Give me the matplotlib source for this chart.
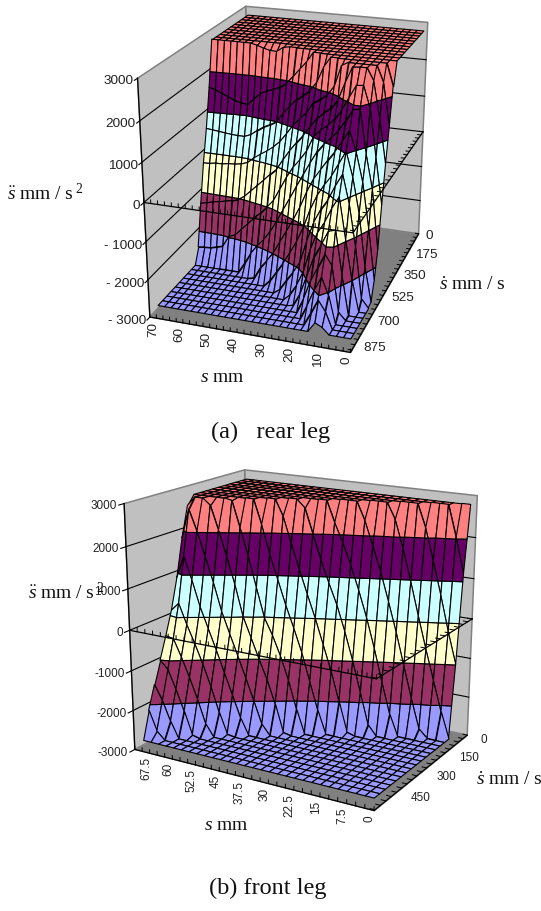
import numpy as np
import matplotlib
matplotlib.use("Agg")
import matplotlib.pyplot as plt
from mpl_toolkits.mplot3d import proj3d
from mpl_toolkits.mplot3d.art3d import Poly3DCollection

plt.rcParams["font.family"] = ["Liberation Sans", "DejaVu Sans"]
plt.rcParams["mathtext.fontset"] = "custom"
plt.rcParams["mathtext.rm"] = "Liberation Serif"
plt.rcParams["mathtext.it"] = "Liberation Serif:italic"

W, H = 541, 911

s_values = [70, 67.5, 65, 62.5, 60, 57.5, 55, 52.5, 50, 47.5, 45, 42.5, 40, 37.5, 35,
            32.5, 30, 27.5, 25, 22.5, 20, 17.5, 15, 12.5, 10, 7.5, 5, 2.5, 0]
rear_v = [0, 35, 70, 105, 140, 175, 210, 245, 280, 315, 350, 385, 420, 455, 490, 525, 560,
          595, 630, 665, 700, 735, 770, 805, 840, 875]
front_v = [0, 30, 60, 90, 120, 150, 180, 210, 240, 270, 300, 330, 360, 390, 420, 450, 480, 510, 540]

z_high = 2800
z_low = -2800

# rows still on the top plateau for each s, then the values read down the wall
rear_flat_rows = [11, 11, 11, 11, 11, 11, 11, 10, 10, 10, 10, 10, 11, 11, 11, 11, 12, 12, 12,
                  13, 13, 13, 14, 14, 15, 15, 14, 13, 12]
rear_wall = [
    [1610, 590, -260, -1280, -2400],
    [1560, 570, -250, -1240, -2380],
    [1480, 550, -220, -1190, -2370],
    [1420, 530, -220, -1160, -2320],
    [1330, 510, -190, -1120, -2270],
    [1290, 500, -180, -1080, -1970],
    [1260, 500, -150, -1030, -1900],
    [2760, 1440, 570, -90, -910, -1720],
    [2700, 1590, 700, 60, -740, -1540, -2520],
    [2660, 1680, 820, 180, -570, -1360, -2210],
    [2650, 1740, 900, 290, -400, -1190, -1980, -2760],
    [2770, 1810, 1000, 420, -220, -1000, -1780, -2440],
    [1940, 1240, 580, -60, -800, -1540, -2220],
    [2130, 1440, 810, 220, -470, -1230, -1980, -2620],
    [2340, 1630, 1050, 480, -130, -890, -1650, -2350],
    [2540, 1760, 1250, 710, 160, -560, -1330, -2080, -2670],
    [1900, 1420, 920, 380, -220, -1000, -1780, -2400],
    [2130, 1690, 1160, 630, 110, -640, -1450, -2150, -2630],
    [2540, 1800, 1410, 1020, 440, -210, -1040, -1860, -2350, -2760],
    [1930, 1570, 1210, 750, 150, -540, -1260, -1960, -2430],
    [2160, 1690, 1340, 970, 410, -150, -740, -1330, -1920, -2400],
    [2700, 1920, 1530, 1140, 670, 140, -380, -880, -1390, -1900, -2420],
    [2370, 1770, 1340, 910, 390, -110, -580, -1050, -1520, -1990, -2460],
    [2780, 2100, 1610, 1180, 720, 260, -200, -680, -1150, -1620, -2090, -2540],
    [2420, 1900, 1480, 1050, 580, 110, -620, -1420, -2070, -2360, -2630],
    [2440, 1940, 950, 420, -160, -970, -1770, -2610],
    [2490, 1890, 830, 220, -480, -1240, -2000],
    [2390, 1560, 670, -50, -950, -1850, -2580],
    [2240, 1320, 440, -520, -1600, -2300, -2770],
]

front_flat_rows = [10, 11, 11, 10, 10, 9, 9, 9, 8, 8, 7, 7, 6, 6, 6, 5, 5, 5, 4, 4, 4, 3, 3, 3,
                   2, 2, 2, 1, 1]
front_wall = [
    [2565, 1810, 875, 125, -455, -1000, -1545, -2115, -2800],
    [2540, 1440, 330, -490, -1200, -1910, -2610],
    [2030, 880, -170, -920, -1660, -2400],
    [2640, 1440, 240, -620, -1400, -2180],
    [2060, 820, -270, -1100, -1920, -2750],
    [2760, 1440, 130, -780, -1640, -2510],
    [2120, 770, -400, -1320, -2250],
    [1450, 0, -920, -1850, -2770],
    [2200, 700, -500, -1450, -2390],
    [1500, -30, -1010, -1990],
    [2400, 900, -430, -1490, -2550],
    [1770, 290, -920, -2070],
    [2610, 1160, -250, -1500, -2760],
    [2000, 570, -830, -2200],
    [1400, 0, -1530],
    [2280, 850, -630, -2220],
    [1820, 340, -1260],
    [1300, -290, -2000],
    [2360, 710, -990, -2740],
    [1770, 60, -1770],
    [1160, -680, -2550],
    [2410, 460, -1500],
    [1730, -270, -2270],
    [960, -1070],
    [2240, 140, -1870],
    [1470, -650, -2600],
    [660, -1400],
    [2040, -200, -2150],
    [1200, -980],
]

z_ticks = [3000, 2000, 1000, 0, -1000, -2000, -3000]
rear_z_labels = ["3000", "2000", "1000", "0", "- 1000", "- 2000", "- 3000"]
front_z_labels = ["3000", "2000", "1000", "0", "-1000", "-2000", "-3000"]
rear_s_ticks = [70, 60, 50, 40, 30, 20, 10, 0]
front_s_ticks = [67.5, 60, 52.5, 45, 37.5, 30, 22.5, 15, 7.5, 0]
rear_v_ticks = [0, 175, 350, 525, 700, 875]
front_v_ticks = [0, 150, 300, 450]

band_edges = [-3000, -2000, -1000, 0, 1000, 2000, 3000]
band_colors = ["#9999FF", "#993366", "#FFFFCC", "#CCFFFF", "#660066", "#FF8080"]
wall_color = "#C0C0C0"
floor_color = "#808080"


def build_grid(flat_rows, wall, n_rows):
    grid = []
    for n, values in zip(flat_rows, wall):
        grid.append([z_high] * n + values + [z_low] * (n_rows - n - len(values)))
    return np.array(grid, float)


def clip_z(poly, lo, hi):
    # cut a polygon to the slab lo <= z <= hi
    for limit, sign in ((lo, 1), (hi, -1)):
        kept = []
        for k in range(len(poly)):
            a = poly[k]
            b = poly[(k + 1) % len(poly)]
            da = sign * (a[2] - limit)
            db = sign * (b[2] - limit)
            if da >= 0:
                kept.append(a)
            if da * db < 0:
                t = da / (da - db)
                kept.append(tuple(a[m] + t * (b[m] - a[m]) for m in range(3)))
        poly = kept
        if not poly:
            return []
    return poly


def draw_chart(position, view, vmax, v_step, v_rows, z, z_labels, s_ticks, v_ticks, fs, s_off, v_off):
    left, bottom, size = position
    ax = fig.add_axes([left / W, bottom / H, size / W, size / H], projection="3d", computed_zorder=False)
    xmin, xmax = -1.25, 71.25
    ymin, ymax = -12.5, vmax
    zmin, zmax = -3000, 3000
    ax.set_xlim(xmin, xmax, view_margin=0)
    ax.set_ylim(ymin, ymax, view_margin=0)
    ax.set_zlim(zmin, zmax, view_margin=0)
    ax.view_init(view[0], view[1])
    ax.set_proj_type("persp", focal_length=view[2])
    ax.set_box_aspect((1, view[3], view[4]))
    ax.set_axis_off()

    # walls and floor
    walls = [
        [(xmax, ymin, zmin), (xmax, ymax, zmin), (xmax, ymax, zmax), (xmax, ymin, zmax)],
        [(xmin, ymin, zmin), (xmax, ymin, zmin), (xmax, ymin, zmax), (xmin, ymin, zmax)],
    ]
    ax.add_collection3d(Poly3DCollection(walls, facecolors=wall_color, edgecolors=floor_color, linewidths=1.1, zorder=1))
    floor = [[(xmin, ymin, zmin), (xmax, ymin, zmin), (xmax, ymax, zmin), (xmin, ymax, zmin)]]
    ax.add_collection3d(Poly3DCollection(floor, facecolors=floor_color, edgecolors=floor_color, linewidths=0.5, zorder=2))

    for t in z_ticks[1:-1]:
        ax.plot([xmax, xmax, xmin], [ymax, ymin, ymin], [t, t, t], color="black", lw=0.8, zorder=3)

    # surface, back to front
    order = 10
    for i in range(len(s_values) - 1):
        for j in range(len(v_rows) - 1):
            quad = [(s_values[i], v_rows[j], z[i, j]), (s_values[i + 1], v_rows[j], z[i + 1, j]),
                    (s_values[i + 1], v_rows[j + 1], z[i + 1, j + 1]), (s_values[i], v_rows[j + 1], z[i, j + 1])]
            pieces = []
            colors = []
            for b in range(len(band_colors)):
                piece = clip_z(quad, band_edges[b], band_edges[b + 1])
                if len(piece) >= 3:
                    pieces.append(piece)
                    colors.append(band_colors[b])
            ax.add_collection3d(Poly3DCollection(pieces, facecolors=colors, edgecolors="black", linewidths=0.8, zorder=order))
            order += 1

    top = order + 10
    # axis lines on top of the surface
    ax.plot([xmax, xmax], [ymax, ymax], [zmin, zmax], color="black", lw=0.9, zorder=top)
    ax.plot([xmax, xmin, xmin], [ymax, ymax, ymin], [0, 0, 0], color="black", lw=0.9, zorder=top)
    ax.plot([xmax, xmin, xmin], [ymax, ymax, ymin], [zmin, zmin, zmin], color="black", lw=0.9, zorder=top)
    for t in z_ticks:
        ax.plot([xmax, xmax], [ymax, ymax + 22], [t, t], color="black", lw=0.8, zorder=top)
    for sv in np.arange(xmin, xmax + 1, 2.5):
        ax.plot([sv, sv], [ymax, ymax], [zmin, zmin + 90], color="black", lw=0.7, zorder=top)
        ax.plot([sv, sv], [ymax, ymax], [0, 90], color="black", lw=0.7, zorder=top)
    for vv in np.arange(ymin, ymax + 1, v_step):
        ax.plot([xmin, xmin + 1.3], [vv, vv], [zmin, zmin], color="black", lw=0.7, zorder=top)
        ax.plot([xmin, xmin + 1.3], [vv, vv], [0, 0], color="black", lw=0.7, zorder=top)

    # tick labels, placed at the projected axis positions
    M = ax.get_proj()

    def put(x, y, zv, text, **kw):
        px, py, _ = proj3d.proj_transform(x, y, zv, M)
        ax.text2D(px, py, text, transform=ax.transData, fontsize=fs, color="#222222", zorder=top, **kw)

    for t, text in zip(z_ticks, z_labels):
        put(xmax, ymax + 30, t, text, ha="right", va="center")
    for sv in s_ticks:
        put(sv, ymax, zmin - s_off, str(sv), rotation=90, ha="center", va="top")
    for vv in v_ticks:
        put(xmin - v_off, vv, zmin, str(vv), ha="left", va="center")
    return ax


def label(x, y, text, size=14, family="Liberation Serif", ha="center"):
    fig.text(x / W, 1 - y / H, text, fontsize=size, family=family, ha=ha, va="center", color="#111111")


fig = plt.figure(figsize=(W / 100, H / 100), dpi=100)

rear_z = build_grid(rear_flat_rows, rear_wall, len(rear_v))
front_z = build_grid(front_flat_rows, front_wall, len(front_v))

draw_chart((87.8, 540.6, 400.8), (22.091, 108.962, 0.551, 1.324, 1.198), 912.5, 35, rear_v, rear_z,
           rear_z_labels, rear_s_ticks, rear_v_ticks, 9.7, 130, 3.2)
draw_chart((90.0, 73.1, 415.5), (17.357, 120.91, 0.555, 0.76, 0.926), 562.5, 30, front_v, front_z,
           front_z_labels, front_s_ticks, front_v_ticks, 8.5, 130, 4.6)

label(45, 193, r"$\ddot{s}\ \mathrm{mm}\ /\ \mathrm{s}^{\ 2}$")
label(472, 285, r"$\dot{s}\ \mathrm{mm}\ /\ \mathrm{s}$")
label(222, 377, r"$s\ \mathrm{mm}$")
label(270.5, 432, "(a)   rear leg", size=17.5)
label(66, 592, r"$\ddot{s}\ \mathrm{mm}\ /\ \mathrm{s}^{\ 2}$")
label(509, 780, r"$\dot{s}\ \mathrm{mm}\ /\ \mathrm{s}$")
label(226, 825, r"$s\ \mathrm{mm}$")
label(268, 888, "(b) front leg", size=17.5)

fig.savefig("out.png", dpi=100)
